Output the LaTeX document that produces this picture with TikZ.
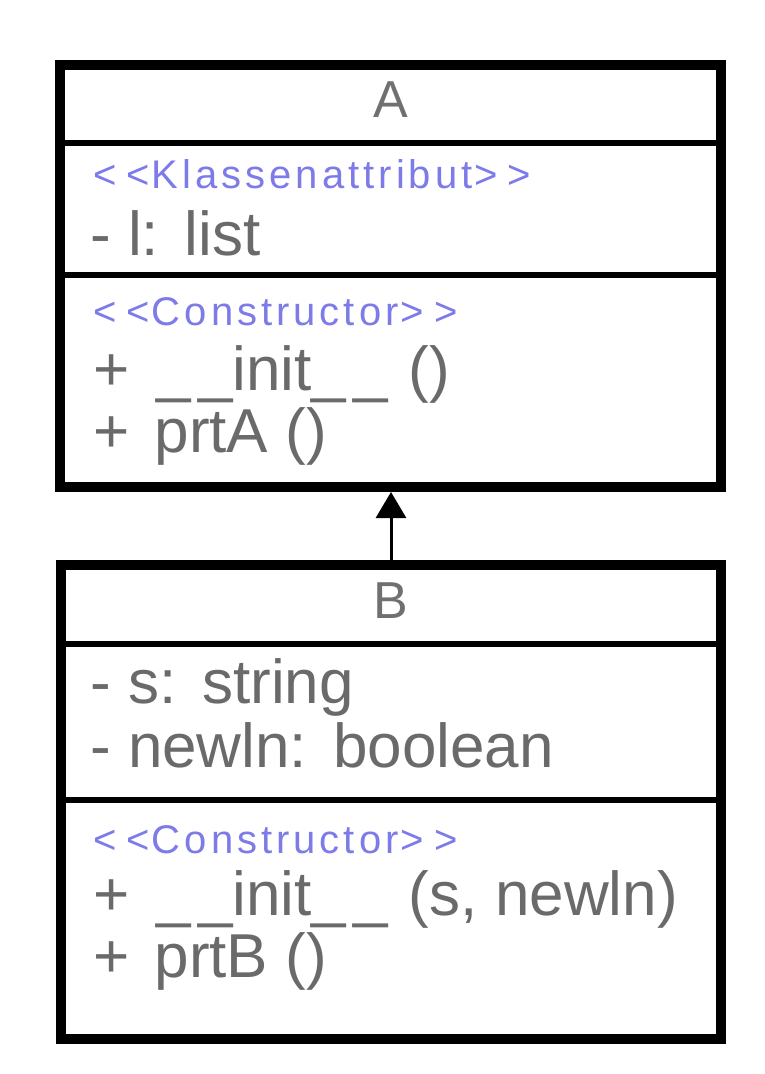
\documentclass[tikz,border=0pt]{standalone}
\usepackage{fontspec}
\setmainfont{Liberation Sans}
\usetikzlibrary{arrows.meta}

\definecolor{txtgray}{HTML}{6A6A6A}
\definecolor{titlegray}{HTML}{707070}
\definecolor{stereoblue}{HTML}{7D7BE8}

% stereotype text: spaced guillemets, slightly tracked letters
\newcommand{\stereo}[1]{{\addfontfeature{LetterSpace=10}<\kern10pt<\kern2pt#1\kern2pt>\kern10pt>}}
% double underscore with a visible gap, as in Python dunder names
\newcommand{\dund}{\_\kern7pt\_}

\tikzset{
  classbox/.style={draw=black, line width=10pt, fill=white, inner sep=0pt},
  sepline/.style={draw=black, line width=6pt},
  classtitle/.style={anchor=base, inner sep=0pt, text=titlegray,
    font=\fontsize{52}{52}\selectfont},
  member/.style={anchor=base west, inner sep=0pt, text=txtgray,
    font=\fontsize{62}{62}\selectfont},
  stereotype/.style={anchor=base west, inner sep=0pt, text=stereoblue,
    font=\fontsize{40}{40}\selectfont},
  inherit/.style={draw=black, line width=3pt,
    -{Triangle[length=26pt, width=30pt]}},
}

\begin{document}
\begin{tikzpicture}[x=1pt, y=-1pt]
  \useasboundingbox (0,0) rectangle (764,1074);

  % class A
  \node[classbox, minimum width=661pt, minimum height=422pt] (A) at (390.5,276) {};
  \draw[sepline] (A.west |- 0,143) -- (A.east |- 0,143);
  \draw[sepline] (A.west |- 0,274.5) -- (A.east |- 0,274.5);
  \node[classtitle] (Aname) at (390.5,117) {A};
  \node[stereotype] (Aattrst) at (93,188) {\stereo{Klassenattribut}};
  \node[member] (Aattr1) at (90,255) {- l:\kern3pt{} list};
  \node[stereotype] (Aopst) at (93,325) {\stereo{Constructor}};
  \node[member] (Aop1) at (93,390) {+\kern10pt{} \dund init\dund\kern4pt{} ()};
  \node[member] (Aop2) at (93,452) {+\kern8pt{} prtA ()};

  % class B
  \node[classbox, minimum width=660pt, minimum height=474.5pt] (B) at (390.5,801.75) {};
  \draw[sepline] (B.west |- 0,643.5) -- (B.east |- 0,643.5);
  \draw[sepline] (B.west |- 0,800) -- (B.east |- 0,800);
  \node[classtitle] (Bname) at (390.5,618) {B};
  \node[member] (Battr1) at (90,703) {- s:\kern3pt{} string};
  \node[member] (Battr2) at (90,767) {- newln:\kern3pt{} boolean};
  \node[stereotype] (Bopst) at (93,853) {\stereo{Constructor}};
  \node[member] (Bop1) at (93,915) {+\kern10pt{} \dund init\dund\kern4pt{} (s, newln)};
  \node[member] (Bop2) at (93,977) {+\kern8pt{} prtB ()};

  % generalization B -> A
  \draw[inherit] (B.north -| 391,0) -- (A.south -| 391,0);
\end{tikzpicture}
\end{document}
